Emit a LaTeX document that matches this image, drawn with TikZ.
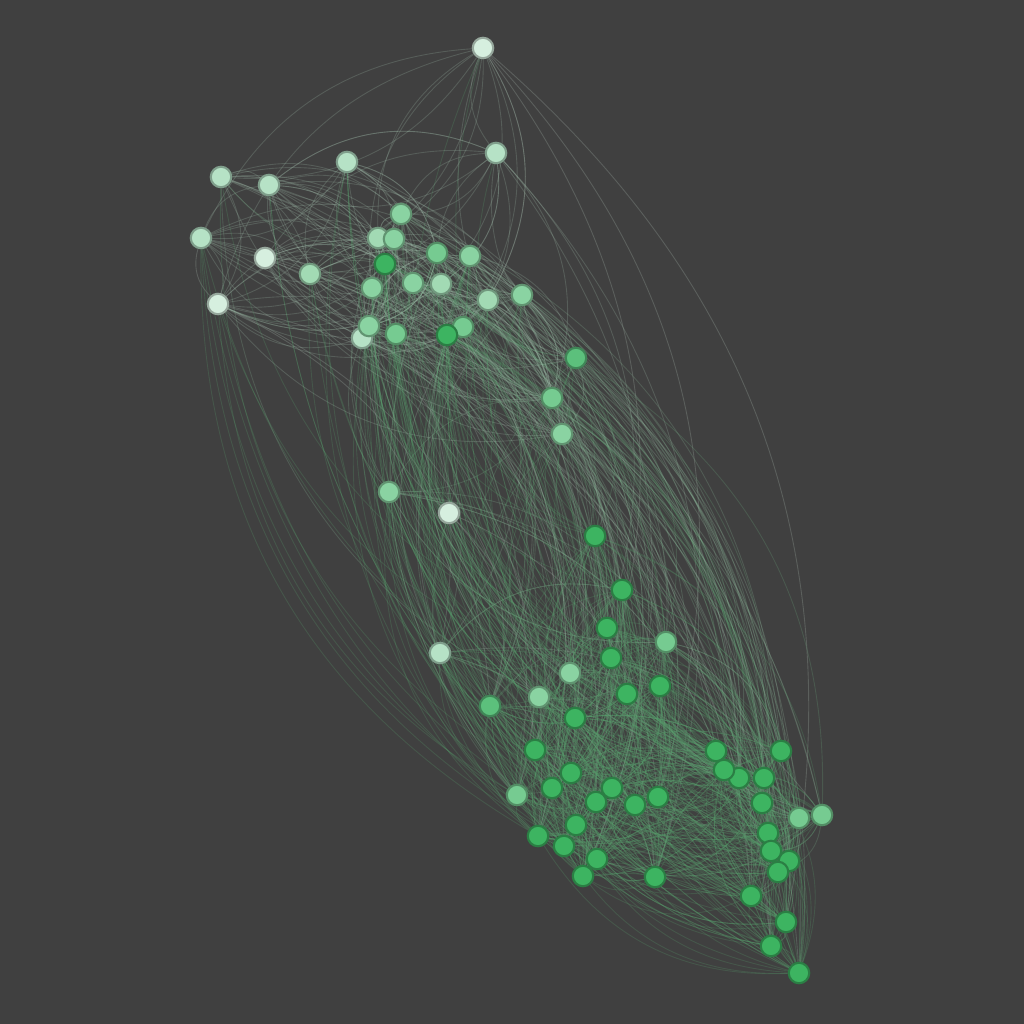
\documentclass[tikz,border=0pt]{standalone}
\usepackage{xcolor}
\usetikzlibrary{backgrounds}

\definecolor{bgdark}{HTML}{404040}
\definecolor{lv1}{HTML}{D6EFDF}
\definecolor{lv2}{HTML}{B6E2C6}
\definecolor{lv3}{HTML}{A2DAB4}
\definecolor{lv4}{HTML}{8AD3A2}
\definecolor{lv5}{HTML}{76CB91}
\definecolor{lv6}{HTML}{5CC07C}
\definecolor{lv7}{HTML}{3DB461}

\tikzset{
  vertex/.style={circle, inner sep=0pt, minimum size=2.05mm, line width=0.6pt},
  link/.style={line width=0.25pt, draw opacity=0.24},
}

% x / y / colour level (paler = fewer links)
\def\vertexlist{483/48/1, 496/153/2, 347/162/2, 221/177/2, 269/185/2,
  201/238/2, 265/258/1, 310/274/3, 218/304/1, 401/214/4, 378/238/3,
  394/239/4, 385/264/7, 437/253/5, 470/256/4, 372/288/4, 413/283/4,
  441/284/3, 488/300/3, 522/295/4, 362/338/2, 369/326/4, 396/334/5,
  463/327/5, 447/335/7, 576/358/6, 552/398/5, 562/434/4, 389/492/4,
  449/513/1, 595/536/7, 622/590/7, 607/628/7, 611/658/7, 666/642/5,
  440/653/2, 570/673/4, 539/697/4, 627/694/7, 660/686/7, 490/706/6,
  575/718/7, 535/750/7, 571/773/7, 552/788/7, 517/795/5, 612/788/7,
  596/802/7, 635/805/7, 658/797/7, 576/825/7, 538/836/7, 564/846/7,
  597/859/7, 583/876/7, 655/877/7, 716/751/7, 781/751/7, 739/778/7,
  724/770/7, 764/778/7, 762/803/7, 799/818/5, 822/815/5, 789/861/7,
  768/833/7, 771/851/7, 778/872/7, 751/896/7, 786/922/7, 771/946/7,
  799/973/7}
\def\levels{{1,2,2,2,2,2,1,3,1,4,3,4,7,5,4,4,4,3,3,4,2,4,5,5,7,6,5,4,4,
  1,7,7,7,7,5,2,4,4,7,7,6,7,7,7,7,5,7,7,7,7,7,7,7,7,7,7,7,7,7,7,7,7,5,5,
  7,7,7,7,7,7,7,7}}

\begin{document}
\begin{tikzpicture}[x=0.1mm, y=-0.1mm]
  \useasboundingbox (0,0) rectangle (1024,1024);

  % Vertices
  \foreach \px/\py/\lv [count=\i] in \vertexlist
    \node[vertex, fill=lv\lv, draw=lv\lv!70!black] (n\i) at (\px,\py) {};

  % Links behind the vertices
  \begin{pgfonlayer}{background}
    \fill[bgdark] (0,0) rectangle (1024,1024);
    \pgfmathsetseed{42}
    % links across the whole graph
    \foreach \px/\py/\lv [count=\i] in \vertexlist {
      \pgfmathtruncatemacro{\tries}{2*\lv+3}
      \foreach \k in {1,...,\tries} {
        \pgfmathrandominteger{\j}{1}{72}
        \pgfmathrandominteger{\r}{1}{8}
        \pgfmathtruncatemacro{\lj}{\levels[\j-1]}
        \ifnum\j=\i\else\ifnum\r>\numexpr\lj+1\relax\else
          \draw[link, draw=lv\lv!60!gray] (n\i) to[bend left=30] (n\j);
        \fi\fi
      }
    }
    % links inside the upper group
    \foreach \i in {1,...,28} {
      \foreach \k in {1,...,6} {
        \pgfmathrandominteger{\j}{1}{28}
        \ifnum\j=\i\else
          \draw[link, draw=lv2!60!gray] (n\i) to[bend left=30] (n\j);
        \fi
      }
    }
    % links inside the lower group
    \foreach \i in {31,...,72} {
      \foreach \k in {1,...,7} {
        \pgfmathrandominteger{\j}{31}{72}
        \ifnum\j=\i\else
          \draw[link, draw=lv7!60!gray] (n\i) to[bend left=30] (n\j);
        \fi
      }
    }
  \end{pgfonlayer}
\end{tikzpicture}
\end{document}
